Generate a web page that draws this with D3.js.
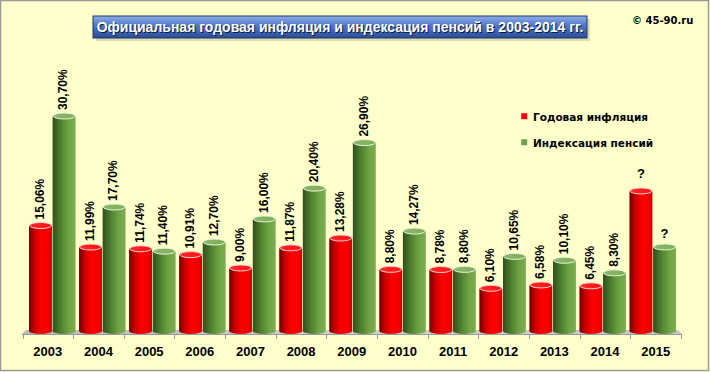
<!DOCTYPE html>
<html>
<head>
<meta charset="utf-8">
<script src="https://cdn.jsdelivr.net/npm/d3@7"></script>
<style>
  html, body { margin: 0; padding: 0; background: #ffffcc; }
  svg { display: block; }
</style>
</head>
<body>
<svg id="chart" width="710" height="372"></svg>
<script>
// chart data
const years = ['2003', '2004', '2005', '2006', '2007', '2008', '2009', '2010', '2011', '2012', '2013', '2014', '2015']
const inflation = [15.06, 11.99, 11.74, 10.91, 9.00, 11.87, 13.28, 8.80, 8.78, 6.10, 6.58, 6.45, 20.0]
const pensions = [30.70, 17.70, 11.40, 12.70, 16.00, 20.40, 26.90, 14.27, 8.80, 10.65, 10.10, 8.30, 12.0]
// 2015 values are not known yet, shown as "?"
const known = [true, true, true, true, true, true, true, true, true, true, true, true, false]
const seriesNames = ['Годовая инфляция', 'Индексация пенсий']
const title = 'Официальная годовая инфляция и индексация пенсий в 2003-2014 гг.'

const W = 710, H = 372
const svg = d3.select('#chart')
const defs = svg.append('defs')

function hGrad(id, stops) {
    const g = defs.append('linearGradient').attr('id', id)
        .attr('x1', '0%').attr('x2', '100%').attr('y1', '0%').attr('y2', '0%')
    stops.forEach(s => g.append('stop').attr('offset', s[0]).attr('stop-color', s[1]))
}
hGrad('redBody', [['0%', '#6e0000'], ['25%', '#c80000'], ['55%', '#ff0000'], ['85%', '#f20000'], ['100%', '#c80000']])
hGrad('greenBody', [['0%', '#2f4f1c'], ['35%', '#4f7f2e'], ['70%', '#6ea443'], ['100%', '#7cad52']])
hGrad('redTop', [['0%', '#ff2a2a'], ['100%', '#ff1010']])
hGrad('greenTop', [['0%', '#8cb86a'], ['100%', '#7eae57']])
hGrad('floorGrad', [['0%', '#b8b8b8'], ['50%', '#d0d0d0'], ['100%', '#c4c4c4']])

const tg = defs.append('linearGradient').attr('id', 'titleGrad')
    .attr('x1', '0%').attr('x2', '0%').attr('y1', '0%').attr('y2', '100%')
tg.append('stop').attr('offset', '0%').attr('stop-color', '#8eaee6')
tg.append('stop').attr('offset', '45%').attr('stop-color', '#4f76c6')
tg.append('stop').attr('offset', '100%').attr('stop-color', '#2b4d9a')

// background + frame
svg.append('rect').attr('x', 0.5).attr('y', 0.5).attr('width', W - 2).attr('height', H - 2)
    .attr('fill', '#ffffcc').attr('stroke', '#9a9a9a').attr('stroke-width', 1.5)

// title box
svg.append('rect').attr('x', 96).attr('y', 19).attr('width', 494).attr('height', 22)
    .attr('fill', '#d0d0a8').attr('opacity', 0.7)
svg.append('rect').attr('x', 93).attr('y', 16).attr('width', 494).attr('height', 22)
    .attr('fill', 'url(#titleGrad)').attr('stroke', '#1e3566').attr('stroke-width', 1)
svg.append('text').attr('x', 341).attr('y', 32.5).attr('text-anchor', 'middle')
    .attr('font-family', 'Liberation Sans, Arial, sans-serif').attr('font-weight', 'bold')
    .attr('font-size', 14).attr('fill', '#0a1a3a').text(title)
svg.append('text').attr('x', 340).attr('y', 31.5).attr('text-anchor', 'middle')
    .attr('font-family', 'Liberation Sans, Arial, sans-serif').attr('font-weight', 'bold')
    .attr('font-size', 14).attr('fill', '#ffffff').text(title)

svg.append('text').attr('x', 632).attr('y', 24)
    .attr('font-family', 'DejaVu Sans, sans-serif').attr('font-weight', 'bold')
    .attr('font-size', 10).attr('fill', '#000').text('© 45-90.ru')

// scales
const xAxis = d3.scaleBand().domain(years).range([22.5, 681])
const x0 = d3.scaleBand().domain(years).range([29, 676]).paddingInner(0.07)
const x1 = d3.scaleBand().domain(['infl', 'pens']).range([0, x0.bandwidth()]).paddingInner(0.03)
const y = d3.scaleLinear().domain([0, 30.7]).range([331, 116])

// floor
const floorPts = [[22, 334], [682, 334], [678, 330], [26, 330]]
svg.append('polygon').attr('points', floorPts.map(p => p.join(',')).join(' '))
    .attr('fill', 'url(#floorGrad)')
svg.append('line').attr('x1', 22).attr('x2', 682).attr('y1', 334.5).attr('y2', 334.5)
    .attr('stroke', '#9a9a9a').attr('stroke-width', 1)
const ticks = years.map(d => xAxis(d)).concat([xAxis.range()[1]])
svg.selectAll('.tick').data(ticks).join('line')
    .attr('x1', d => Math.round(d) + 0.5).attr('x2', d => Math.round(d) + 0.5)
    .attr('y1', 334).attr('y2', 339).attr('stroke', '#9a9a9a')

// year labels
svg.selectAll('.year').data(years).join('text')
    .attr('x', d => xAxis(d) + xAxis.bandwidth() / 2).attr('y', 356)
    .attr('text-anchor', 'middle')
    .attr('font-family', 'Liberation Sans, Arial, sans-serif').attr('font-weight', 'bold')
    .attr('font-size', 13).attr('fill', '#000').text(d => d)

// bars
const rows = []
years.forEach((yr, i) => {
    rows.push({ yr: yr, key: 'infl', v: inflation[i], known: known[i] })
    rows.push({ yr: yr, key: 'pens', v: pensions[i], known: known[i] })
})
const ry = 3
const bw = x1.bandwidth()
const bars = svg.selectAll('.bar').data(rows).join('g')
    .attr('transform', d => `translate(${x0(d.yr) + x1(d.key)},0)`)

bars.append('ellipse').attr('cx', bw / 2).attr('cy', y(0)).attr('rx', bw / 2).attr('ry', ry)
    .attr('fill', d => d.key == 'infl' ? 'url(#redBody)' : 'url(#greenBody)')
bars.append('rect').attr('x', 0).attr('width', bw)
    .attr('y', d => y(d.v)).attr('height', d => y(0) - y(d.v))
    .attr('fill', d => d.key == 'infl' ? 'url(#redBody)' : 'url(#greenBody)')
bars.append('ellipse').attr('cx', bw / 2).attr('cy', d => y(d.v)).attr('rx', bw / 2 - 0.5).attr('ry', ry)
    .attr('fill', d => d.key == 'infl' ? 'url(#redTop)' : 'url(#greenTop)')
    .attr('stroke', d => d.key == 'infl' ? '#ffd0d0' : '#e6f2da').attr('stroke-width', 1)

// value labels
const fmt = v => d3.format('.2f')(v).replace('.', ',') + '%'
bars.filter(d => d.known).append('text')
    .attr('transform', d => `translate(${bw / 2 - 1},${y(d.v) - 6}) rotate(-90)`)
    .attr('dy', '0.36em')
    .attr('font-family', 'Liberation Sans, Arial, sans-serif').attr('font-weight', 'bold')
    .attr('font-size', 12).attr('fill', '#000').text(d => fmt(d.v))
bars.filter(d => !d.known).append('text')
    .attr('x', bw / 2).attr('y', d => y(d.v) - (d.key == 'infl' ? 13 : 9))
    .attr('text-anchor', 'middle')
    .attr('font-family', 'Liberation Sans, Arial, sans-serif').attr('font-weight', 'bold')
    .attr('font-size', 13).attr('fill', '#000').text('?')

// legend
const legend = svg.selectAll('.legend').data(seriesNames).join('g')
    .attr('transform', (d, i) => `translate(521,${113 + i * 26})`)
legend.append('rect').attr('width', 6.5).attr('height', 6.5)
    .attr('fill', (d, i) => i == 0 ? '#ff0000' : '#6fa54a')
    .attr('stroke', '#ffffff').attr('stroke-width', 0.5)
legend.append('text').attr('x', 12).attr('y', 7.5)
    .attr('font-family', 'DejaVu Sans, sans-serif').attr('font-weight', 'bold')
    .attr('font-size', 10.5).attr('fill', '#000').text(d => d)
</script>
</body>
</html>
